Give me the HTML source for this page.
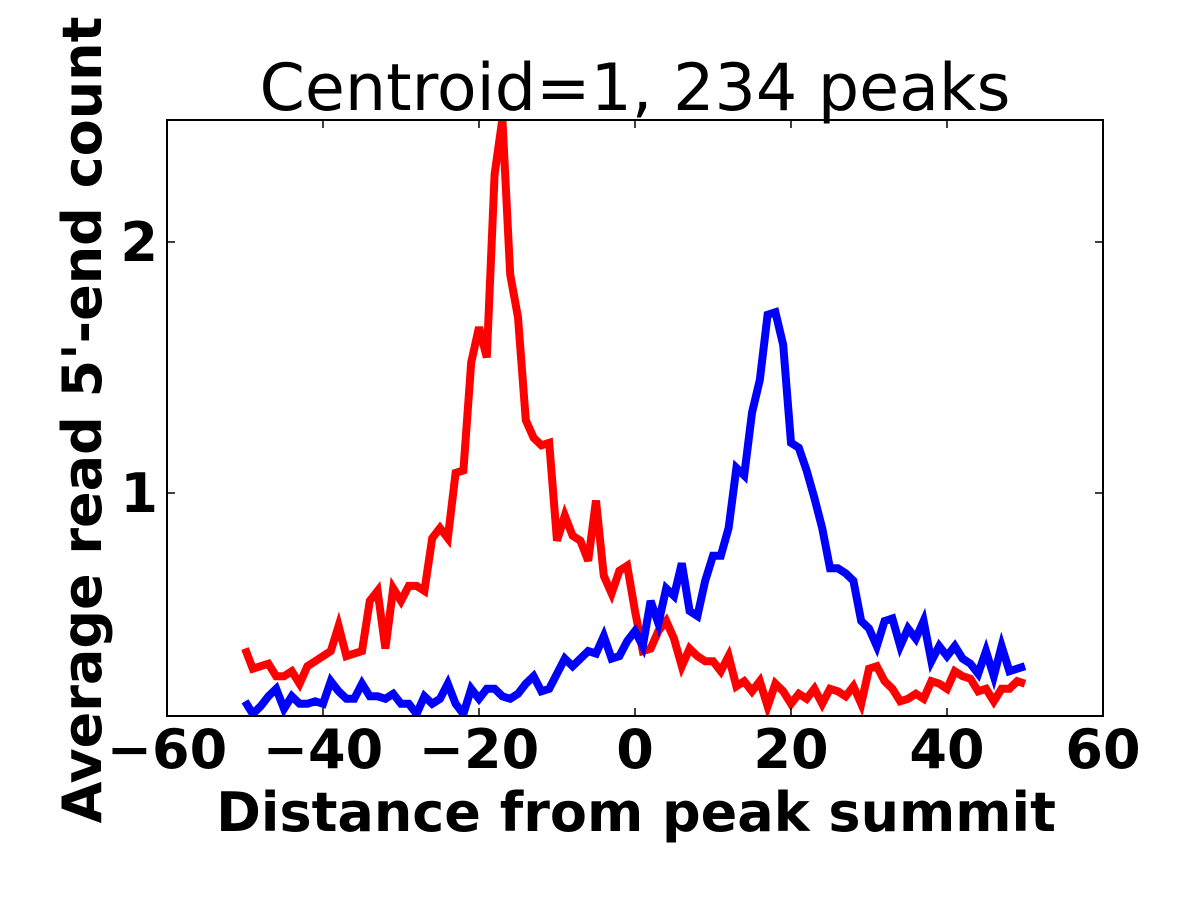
<!DOCTYPE html>
<html><head><meta charset="utf-8"><style>
html,body{margin:0;padding:0;background:#fff;width:1200px;height:900px;overflow:hidden}
svg text{font-family:"DejaVu Sans","Liberation Sans",sans-serif}
</style></head><body>
<svg id="chart" width="1200" height="900" viewBox="0 0 1200 900" xmlns="http://www.w3.org/2000/svg">
<rect width="1200" height="900" fill="#fff"/>
<g id="series"></g>
<g id="axes"></g>
</svg>
<script>
const xs = [];
for (let i = -50; i <= 50; i++) xs.push(i);
const redValues = [0.38,0.30,0.31,0.32,0.27,0.27,0.29,0.24,0.31,0.33,0.35,0.37,0.47,0.35,0.36,0.37,0.57,0.61,0.38,0.62,0.57,0.63,0.63,0.61,0.82,0.86,0.82,1.08,1.09,1.52,1.66,1.54,2.27,2.49,1.87,1.70,1.29,1.22,1.19,1.20,0.81,0.91,0.83,0.81,0.73,0.97,0.67,0.60,0.69,0.71,0.53,0.37,0.38,0.45,0.49,0.42,0.31,0.38,0.35,0.33,0.33,0.29,0.35,0.23,0.25,0.21,0.25,0.15,0.24,0.21,0.16,0.20,0.18,0.22,0.16,0.22,0.21,0.19,0.23,0.16,0.30,0.31,0.25,0.22,0.17,0.18,0.20,0.18,0.25,0.24,0.22,0.29,0.27,0.26,0.21,0.22,0.17,0.22,0.22,0.25,0.24];
const blueValues = [0.17,0.12,0.15,0.19,0.22,0.14,0.19,0.16,0.16,0.17,0.16,0.25,0.21,0.18,0.18,0.24,0.19,0.19,0.18,0.20,0.16,0.16,0.12,0.19,0.16,0.18,0.24,0.16,0.12,0.22,0.18,0.22,0.22,0.19,0.18,0.20,0.24,0.27,0.21,0.22,0.28,0.34,0.31,0.34,0.37,0.36,0.43,0.34,0.35,0.41,0.45,0.39,0.57,0.48,0.62,0.59,0.72,0.53,0.51,0.65,0.75,0.75,0.86,1.10,1.07,1.32,1.45,1.71,1.72,1.59,1.20,1.18,1.09,0.98,0.86,0.70,0.70,0.68,0.65,0.49,0.46,0.39,0.49,0.50,0.39,0.46,0.42,0.49,0.33,0.39,0.35,0.39,0.34,0.32,0.28,0.37,0.27,0.39,0.29,0.30,0.31];
const xTicks = [-60,-40,-20,0,20,40,60];
const xTickLabels = ["\u221260","\u221240","\u221220","0","20","40","60"];
const yTicks = [1,2];
const yTickLabels = ["1","2"];

const L=167,R=1103,T=120,B=716;
const xMin=-60,xMax=60,yMin=0.1115,yMax=2.486;
const X=v=>L+(v-xMin)/(xMax-xMin)*(R-L);
const Y=v=>B-(v-yMin)/(yMax-yMin)*(B-T);
const NS="http://www.w3.org/2000/svg";
function mk(tag,attrs,parent){const e=document.createElementNS(NS,tag);for(const k in attrs)e.setAttribute(k,attrs[k]);parent.appendChild(e);return e;}
const sg=document.getElementById('series'), ag=document.getElementById('axes');

const clip=mk('clipPath',{id:'pc'},sg);
mk('rect',{x:L,y:T,width:R-L,height:B-T},clip);

function line(vals,color,name){
  const p=mk('path',{d:vals.map((v,i)=>(i?'L':'M')+X(xs[i]).toFixed(1)+','+Y(v).toFixed(1)).join(''),fill:'none',stroke:color,'stroke-width':8,'stroke-linejoin':'miter','clip-path':'url(#pc)'},sg);
  
  
}
line(redValues,'#ff0000','red-series-line');
line(blueValues,'#0000ff','blue-series-line');

const fr=mk('rect',{x:L,y:T,width:R-L,height:B-T,fill:'none',stroke:'#000','stroke-width':2},ag);



xTicks.forEach((t,i)=>{
  const x=X(t);
  mk('line',{x1:x,y1:B,x2:x,y2:B-8,stroke:'#000','stroke-width':1.5},ag);
  mk('line',{x1:x,y1:T,x2:x,y2:T+8,stroke:'#000','stroke-width':1.5},ag);
  const tx=mk('text',{x:x,y:768,'text-anchor':'middle','font-size':54,'font-weight':'bold'},ag);
  tx.textContent=xTickLabels[i];
  
  
});
yTicks.forEach((t,i)=>{
  const y=Y(t);
  mk('line',{x1:L,y1:y,x2:L+8,y2:y,stroke:'#000','stroke-width':1.5},ag);
  mk('line',{x1:R,y1:y,x2:R-8,y2:y,stroke:'#000','stroke-width':1.5},ag);
  const tx=mk('text',{x:158,y:y+19,'text-anchor':'end','font-size':54,'font-weight':'bold'},ag);
  tx.textContent=yTickLabels[i];
  
  
});
const title=mk('text',{x:635,y:110,'text-anchor':'middle','font-size':65},ag);
title.textContent='Centroid=1, 234 peaks';


const xl=mk('text',{x:636,y:831,'text-anchor':'middle','font-size':54,'font-weight':'bold'},ag);
xl.textContent='Distance from peak summit';


const yl=mk('text',{x:0,y:0,'text-anchor':'middle','font-size':54,'font-weight':'bold',transform:'translate(101,420) rotate(-90)'},ag);
yl.textContent="Average read 5'-end count";


</script>
</body></html>
